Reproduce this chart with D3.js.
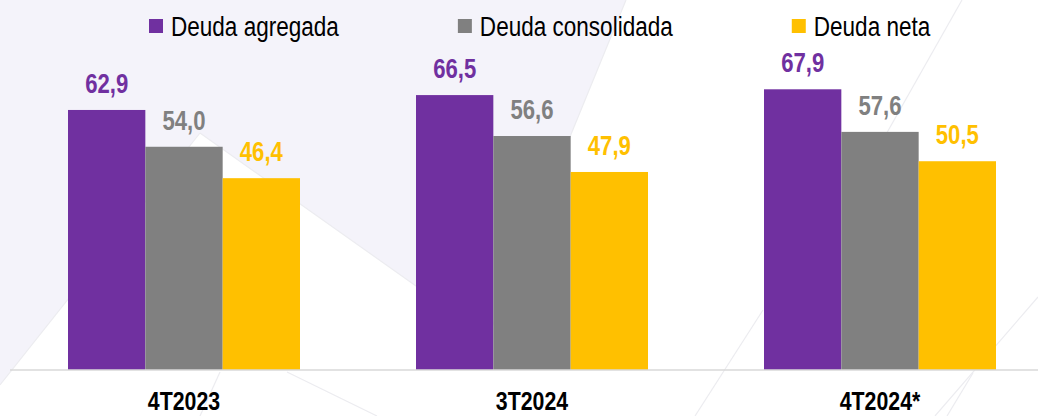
<!DOCTYPE html>
<meta charset="utf-8">
<style>

body {
  margin: 0;
  background: #fff;
}

svg {
  display: block;
  font-family: "Liberation Sans", Arial, sans-serif;
}

.axis path,
.axis line {
  fill: none;
  stroke: #d9d9d9;
  stroke-width: 1.5px;
}

.deco {
  fill: none;
  stroke: #ececf0;
  stroke-width: 1.2px;
}

</style>
<body>
  <script src="https://d3js.org/d3.v7.min.js"></script>
  <script>

    var categories = ["4T2023", "3T2024", "4T2024*"];
    var series = ["Deuda agregada", "Deuda consolidada", "Deuda neta"];
    var deudaAgregada = [62.9, 66.5, 67.9];
    var deudaConsolidada = [54.0, 56.6, 57.6];
    var deudaNeta = [46.4, 47.9, 50.5];
    var colors = ["#7030a0", "#808080", "#ffc000"];

    var values = [deudaAgregada, deudaConsolidada, deudaNeta];
    var formatComma = function(v) { return d3.format(".1f")(v).replace(".", ","); };

    var width = 1038,
        height = 416,
        baseline = 370,
        narrow = 0.82;   // no Arial Narrow installed, squeeze Liberation Sans instead

    function squeeze(x, y) { return "translate(" + x + "," + y + ") scale(" + narrow + ",1)"; }

    var svg = d3.select("body").append("svg")
        .attr("width", width)
        .attr("height", height);

    // slide background decoration
    svg.append("polygon")
        .attr("points", "0,0 626,0 488,337 200,133 0,385")
        .attr("fill", "#f4f3fa");

    var deco = [
      [200, 133, 488, 337], [200, 133, 0, 385], [626, 0, 488, 337],
      [962, 0, 880, 145], [973, 373, 947, 416], [1038, 297, 935, 416],
      [763, 310, 695, 416], [287, 372, 377, 416], [220, 372, 200, 416]
    ];
    svg.selectAll(".deco")
        .data(deco)
      .enter().append("line")
        .attr("class", "deco")
        .attr("x1", function(d) { return d[0]; })
        .attr("y1", function(d) { return d[1]; })
        .attr("x2", function(d) { return d[2]; })
        .attr("y2", function(d) { return d[3]; });

    var x0 = d3.scaleBand()
        .domain(categories)
        .range([10, 1054])
        .paddingInner(1 / 3)
        .paddingOuter(1 / 6);

    var x1 = d3.scaleBand()
        .domain(series)
        .range([0, x0.bandwidth()]);

    var y = d3.scaleLinear()
        .domain([0, 89.5])
        .range([baseline, 0]);

    var groups = svg.selectAll(".group")
        .data(categories)
      .enter().append("g")
        .attr("class", "group")
        .attr("transform", function(d) { return "translate(" + x0(d) + ",0)"; });

    function rows(d, i) { return series.map(function(s, j) { return {s: s, j: j, v: values[j][i]}; }); }

    groups.selectAll("rect")
        .data(rows)
      .enter().append("rect")
        .attr("x", function(d) { return x1(d.s); })
        .attr("width", x1.bandwidth())
        .attr("y", function(d) { return y(d.v); })
        .attr("height", function(d) { return baseline - y(d.v); })
        .attr("fill", function(d) { return colors[d.j]; });

    groups.selectAll(".label")
        .data(rows)
      .enter().append("text")
        .attr("class", "label")
        .attr("transform", function(d) { return squeeze(x1(d.s) + x1.bandwidth() / 2, y(d.v) - 17); })
        .attr("text-anchor", "middle")
        .style("font-size", "27px")
        .style("font-weight", "bold")
        .attr("fill", function(d) { return colors[d.j]; })
        .text(function(d) { return formatComma(d.v); });

    var xAxis = d3.axisBottom(x0).tickSize(0).tickPadding(0);

    var axis = svg.append("g")
        .attr("class", "x axis")
        .attr("transform", "translate(0," + baseline + ")")
        .call(xAxis);

    axis.select(".domain").attr("d", "M10,0H" + width);
    axis.selectAll("text")
        .attr("y", 0)
        .attr("dy", null)
        .attr("transform", squeeze(0, 40))
        .attr("fill", "#000")
        .style("font-family", "inherit")
        .style("font-size", "26px")
        .style("font-weight", "bold");

    // legend
    var legend = svg.append("g").attr("class", "legend");
    var lx = 149;
    series.forEach(function(s, j) {
      legend.append("rect")
          .attr("x", lx)
          .attr("y", 19)
          .attr("width", 14)
          .attr("height", 14)
          .attr("fill", colors[j]);
      var t = legend.append("text")
          .attr("transform", squeeze(lx + 22, 36))
          .style("font-size", "27.5px")
          .attr("fill", "#000")
          .text(s);
      lx += 22 + t.node().getComputedTextLength() * narrow + 119;
    });

  </script>
</body>
</html>
